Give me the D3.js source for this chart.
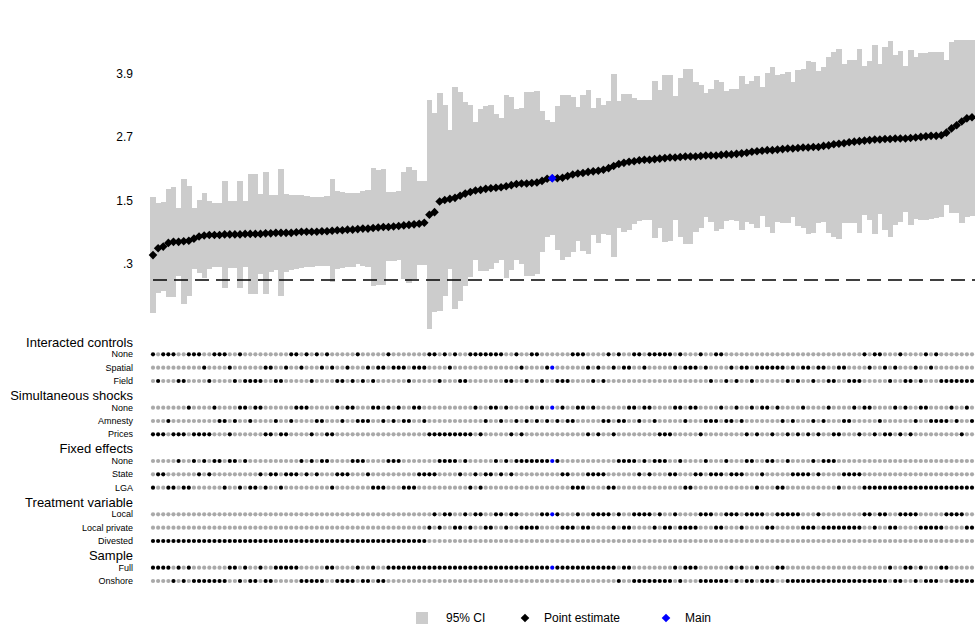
<!DOCTYPE html>
<html>
<head>
<meta charset="utf-8">
<script src="https://cdn.jsdelivr.net/npm/d3@7"></script>
<style>
  body { margin: 0; background: #fff; }
  svg { display: block; font-family: "Liberation Sans", Arial, Helvetica, sans-serif; }
</style>
</head>
<body>
<svg id="chart" width="975" height="631"></svg>
<script>
// point estimates, specifications sorted from smallest to largest
const estimate = [
  0.47, 0.60, 0.63, 0.70, 0.72, 0.72, 0.73, 0.74, 0.78, 0.82,
  0.84, 0.85, 0.85, 0.85, 0.86, 0.86, 0.86, 0.86, 0.87, 0.87,
  0.87, 0.87, 0.88, 0.88, 0.89, 0.89, 0.89, 0.89, 0.90, 0.91,
  0.91, 0.91, 0.91, 0.92, 0.92, 0.93, 0.94, 0.94, 0.95, 0.95,
  0.96, 0.97, 0.97, 0.98, 0.99, 1.00, 1.00, 1.01, 1.02, 1.03,
  1.04, 1.05, 1.06, 1.08, 1.23, 1.28, 1.48, 1.51, 1.53, 1.55,
  1.59, 1.63, 1.66, 1.69, 1.70, 1.72, 1.73, 1.74, 1.75, 1.77,
  1.79, 1.81, 1.82, 1.82, 1.83, 1.84, 1.87, 1.91, 1.92, 1.92,
  1.93, 1.96, 1.99, 2.01, 2.02, 2.04, 2.05, 2.06, 2.08, 2.11,
  2.15, 2.19, 2.21, 2.23, 2.24, 2.26, 2.27, 2.27, 2.28, 2.29,
  2.30, 2.31, 2.31, 2.32, 2.33, 2.33, 2.33, 2.34, 2.35, 2.35,
  2.35, 2.36, 2.37, 2.37, 2.38, 2.39, 2.40, 2.42, 2.43, 2.44,
  2.45, 2.45, 2.46, 2.47, 2.48, 2.48, 2.49, 2.50, 2.50, 2.51,
  2.51, 2.53, 2.54, 2.56, 2.57, 2.58, 2.60, 2.61, 2.62, 2.63,
  2.64, 2.65, 2.65, 2.66, 2.66, 2.67, 2.67, 2.67, 2.68, 2.69,
  2.70, 2.71, 2.72, 2.72, 2.73, 2.78, 2.86, 2.92, 2.99, 3.05,
  3.07
];

// upper bound of the 95% CI
const ciHigh = [
  1.57, 1.45, 1.47, 1.72, 1.76, 1.36, 1.91, 1.78, 1.36, 1.51,
  1.65, 1.49, 1.46, 1.45, 1.87, 1.50, 1.49, 1.87, 1.50, 2.00,
  2.00, 1.62, 2.03, 1.60, 1.60, 2.09, 1.62, 1.60, 1.60, 1.60,
  1.58, 1.57, 1.56, 1.57, 1.58, 1.90, 1.67, 1.66, 1.65, 1.65,
  1.64, 1.68, 1.70, 2.11, 2.08, 2.09, 1.66, 1.66, 1.67, 2.04,
  2.13, 2.08, 1.86, 1.86, 3.40, 3.16, 3.52, 3.30, 2.83, 3.64,
  3.55, 3.36, 3.30, 2.99, 3.23, 3.29, 3.30, 3.13, 3.05, 3.50,
  3.46, 3.23, 3.24, 3.54, 3.55, 3.57, 3.19, 3.01, 2.99, 3.28,
  3.49, 3.49, 3.45, 3.27, 3.49, 3.58, 3.25, 3.43, 3.30, 3.38,
  3.89, 3.38, 3.51, 3.51, 3.43, 3.40, 3.40, 3.40, 3.75, 3.58,
  3.87, 3.87, 3.48, 3.82, 3.98, 3.98, 3.74, 3.68, 3.52, 3.60,
  3.77, 3.74, 3.56, 3.60, 3.60, 3.84, 3.69, 3.75, 3.85, 3.65,
  3.91, 4.01, 3.87, 3.88, 3.92, 3.74, 3.97, 3.99, 4.14, 4.12,
  3.95, 4.02, 4.21, 4.31, 4.35, 4.08, 4.15, 4.15, 4.36, 4.04,
  4.13, 4.43, 4.07, 4.39, 4.51, 4.24, 4.32, 4.04, 4.34, 4.21,
  4.28, 4.29, 4.30, 4.30, 4.30, 4.16, 4.50, 4.60, 4.90, 4.91,
  4.94
];

// lower bound of the 95% CI
const ciLow = [
  -0.62, -0.25, -0.21, -0.32, -0.32, 0.08, -0.45, -0.30, 0.20, 0.13,
  0.03, 0.21, 0.24, 0.25, -0.15, 0.22, 0.23, -0.15, 0.24, -0.26,
  -0.26, 0.12, -0.27, 0.16, 0.18, -0.31, 0.16, 0.18, 0.20, 0.22,
  0.24, 0.25, 0.26, 0.27, 0.26, -0.04, 0.21, 0.22, 0.25, 0.25,
  0.31, 0.26, 0.24, -0.12, -0.09, -0.09, 0.35, 0.36, 0.37, 0.02,
  -0.05, 0.02, 0.28, 0.28, -0.92, -0.60, -0.58, -0.30, 0.20, -0.55,
  -0.40, -0.11, 0.05, 0.38, 0.17, 0.17, 0.20, 0.32, 0.38, 0.03,
  0.18, 0.37, 0.30, 0.08, 0.08, 0.12, 0.52, 0.81, 0.84, 0.56,
  0.37, 0.43, 0.53, 0.74, 0.55, 0.49, 0.84, 0.69, 0.86, 0.84,
  0.43, 0.99, 0.90, 0.95, 1.05, 1.12, 1.13, 1.14, 0.80, 0.99,
  0.72, 0.74, 1.13, 0.82, 0.67, 0.68, 0.91, 0.99, 1.18, 1.10,
  0.93, 0.97, 1.12, 1.14, 1.12, 0.95, 1.10, 1.05, 0.99, 1.20,
  1.00, 0.88, 1.10, 1.08, 1.07, 1.19, 1.02, 0.98, 0.86, 0.88,
  1.07, 1.10, 0.88, 0.82, 0.78, 1.08, 1.08, 1.08, 0.89, 1.23,
  1.13, 0.86, 1.24, 0.94, 0.82, 1.04, 1.10, 1.29, 1.04, 1.16,
  1.13, 1.14, 1.16, 1.17, 1.19, 1.41, 1.26, 1.26, 1.08, 1.19,
  1.20
];

const mainSpec = 78;

const yTicks = [0.3, 1.5, 2.7, 3.9];
const yTickLabels = [".3", "1.5", "2.7", "3.9"];

// which option each specification uses, one letter per spec
const controlCodes = [
  "NFNNNFFNNNSFNNNSFNFFFFSSFFSNNSNF",
  "NSNSFFSFNFSFSSNSSSFSSSNNFNSNFFNN",
  "NNNNNFFNSFNNFSSFFFNNNSFSFNSNSSNNS",
  "NNNNNSNSSSNSFNNFSFSSFSSSSSSFSFSS",
  "FSSFFSSFFFNSNNSFSNFFSFNSNFFFFFFF"
].join("");
const shockCodes = [
  "PPPAPPPNPPPPNAAPANNANNPPAPPANNNP",
  "AAPPNANNAAANNANANAANNAPPPPPPPPPN",
  "PANNANPAPANANANANAANNPNPAAPAANNAN",
  "NAPPPNNANNPAAANAANAPNPNNPNAPAPNP",
  "APANPPAANPNNPAPPNPNPANNAAAANAPNA"
].join("");
const fixedCodes = [
  "LSSLLNLLNSNSNNLNNLNLLSLSSLSSSNSN",
  "SNNLSSSNNNSLLLNNNLLLSSSSNNNNSNLS",
  "LSSNSNSNNNNNNNNNSSLLLSSSSLLNNNNSN",
  "SNNNSSNLLSSNSSSNSSSNNLSNNLLNSSSS",
  "NSNNNLSSSS" + "LLLLLLLLLL" + "LLLLLLLLLL" + "LL"
].join("");
const treatCodes = [
  "DDDDDDDDDD" + "DDDDDDDDDD" + "DDDDDDDDDD" + "DDDDDDDDDD" + "DDDDDDDDDD" + "DDDD",
  "PLPLLPPLPL",
  "LPPLLPLLPPPPLLLLPPPLPPLLLLPLPPLLL",
  "LPLPPLPPPPLLLPPLLLPLLLLPPLLLLLPP",
  "PLPPPPPPPPLLPLLPPLLLLPPPPPLLLLPP"
].join("");
const sampleCodes = [
  "FFFFOFOFOOOOOOOFFOFOOFOOFFFFFOOO",
  "OOFFOOOOFOOFOO" + "FFFFFFFFFF" + "FFFFFFFF",
  "FFFFFFFFFF" + "FFFFFFFFFF" + "FFFFFFF" + "OFFOOO",
  "OOOOOFOFFFOOOOOOFOFOOFOOOFFOOOOO",
  "OOOOOOOOOO" + "OOOOO" + "FOOFFOFOOOFFOOOOO"
].join("");

const groups = [
  { title: "Interacted controls", codes: controlCodes, options: [["N", "None"], ["S", "Spatial"], ["F", "Field"]] },
  { title: "Simultaneous shocks", codes: shockCodes, options: [["N", "None"], ["A", "Amnesty"], ["P", "Prices"]] },
  { title: "Fixed effects", codes: fixedCodes, options: [["N", "None"], ["S", "State"], ["L", "LGA"]] },
  { title: "Treatment variable", codes: treatCodes, options: [["L", "Local"], ["P", "Local private"], ["D", "Divested"]] },
  { title: "Sample", codes: sampleCodes, options: [["F", "Full"], ["O", "Onshore"]] }
];

const legendItems = ["95% CI", "Point estimate", "Main"];

const ciGray = "#cccccc";
const dotGray = "#a9a9a9";
const mainBlue = "#0000ff";

const svg = d3.select("#chart");
const n = estimate.length;

let x = d3.scaleLinear().domain([0, n - 1]).range([153, 972]);
let y = d3.scaleLinear().domain([0, 3.9]).range([280, 73.3]);
let barW = x(1) - x(0);

function diamond(r) {
  return "M0," + (-r) + "L" + r + ",0L0," + r + "L" + (-r) + ",0Z";
}

// ---- top panel: CI bars, zero line, point estimates ----
svg.append("clipPath").attr("id", "plotClip")
  .append("rect")
  .attr("x", 140).attr("y", 40)
  .attr("width", 835).attr("height", 300);

let plotArea = svg.append("g").attr("clip-path", "url(#plotClip)");

plotArea.selectAll("rect.ci")
  .data(estimate)
  .enter().append("rect")
  .attr("class", "ci")
  .attr("x", (d, i) => x(i) - barW / 2)
  .attr("width", barW + 0.4)
  .attr("y", (d, i) => y(ciHigh[i]))
  .attr("height", (d, i) => y(ciLow[i]) - y(ciHigh[i]))
  .attr("fill", ciGray)
  .attr("shape-rendering", "crispEdges");

plotArea.append("line")
  .attr("x1", 153).attr("x2", 975)
  .attr("y1", y(0)).attr("y2", y(0))
  .attr("stroke", "#000")
  .attr("stroke-width", 1.5)
  .attr("stroke-dasharray", "14,7");

plotArea.selectAll("path.est")
  .data(estimate)
  .enter().append("path")
  .attr("class", "est")
  .attr("d", diamond(4.3))
  .attr("transform", (d, i) => "translate(" + x(i) + "," + y(d) + ")")
  .attr("fill", (d, i) => i === mainSpec ? mainBlue : "#000");

// draw the main spec again so it sits on top of its neighbours
plotArea.append("path")
  .attr("d", diamond(4.3))
  .attr("transform", "translate(" + x(mainSpec) + "," + y(estimate[mainSpec]) + ")")
  .attr("fill", mainBlue);

let yAxis = svg.append("g")
  .attr("transform", "translate(139,0)")
  .call(d3.axisLeft(y).tickValues(yTicks).tickFormat((d, i) => yTickLabels[i]).tickSize(0).tickPadding(6));
yAxis.select(".domain").remove();
yAxis.attr("font-family", null).attr("font-size", null);
yAxis.selectAll("text").attr("font-size", 12).attr("fill", "#000");

// ---- bottom panel: specification indicators ----
let slotY = d3.scaleLinear().domain([0, 18]).range([341, 581]);
let slot = 0;
let matrix = svg.append("g");

groups.forEach(function(g) {
  matrix.append("text")
    .attr("x", 133)
    .attr("y", slotY(slot) + 1)
    .attr("dy", "0.35em")
    .attr("text-anchor", "end")
    .attr("font-size", 13)
    .text(g.title);
  slot++;

  g.options.forEach(function(opt) {
    let rowY = slotY(slot);
    matrix.append("text")
      .attr("x", 133)
      .attr("y", rowY)
      .attr("dy", "0.35em")
      .attr("text-anchor", "end")
      .attr("font-size", 9)
      .text(opt[1]);

    let flags = d3.range(n).map(i => g.codes[i] === opt[0]);
    matrix.append("g").selectAll("circle")
      .data(flags)
      .enter().append("circle")
      .attr("cx", (d, i) => x(i))
      .attr("cy", rowY)
      .attr("r", 2.1)
      .attr("fill", (d, i) => !d ? dotGray : (i === mainSpec ? mainBlue : "#000"));
    slot++;
  });
});

// ---- legend ----
let legend = svg.append("g").attr("font-size", 12);
let legY = 618;

legend.append("rect")
  .attr("x", 416).attr("y", legY - 6)
  .attr("width", 12).attr("height", 12)
  .attr("fill", ciGray);
legend.append("text").attr("x", 446).attr("y", legY).attr("dy", "0.35em").text(legendItems[0]);

legend.append("path")
  .attr("d", diamond(4.3))
  .attr("transform", "translate(525," + legY + ")")
  .attr("fill", "#000");
legend.append("text").attr("x", 544).attr("y", legY).attr("dy", "0.35em").text(legendItems[1]);

legend.append("path")
  .attr("d", diamond(4.3))
  .attr("transform", "translate(666," + legY + ")")
  .attr("fill", mainBlue);
legend.append("text").attr("x", 685).attr("y", legY).attr("dy", "0.35em").text(legendItems[2]);
</script>
</body>
</html>
